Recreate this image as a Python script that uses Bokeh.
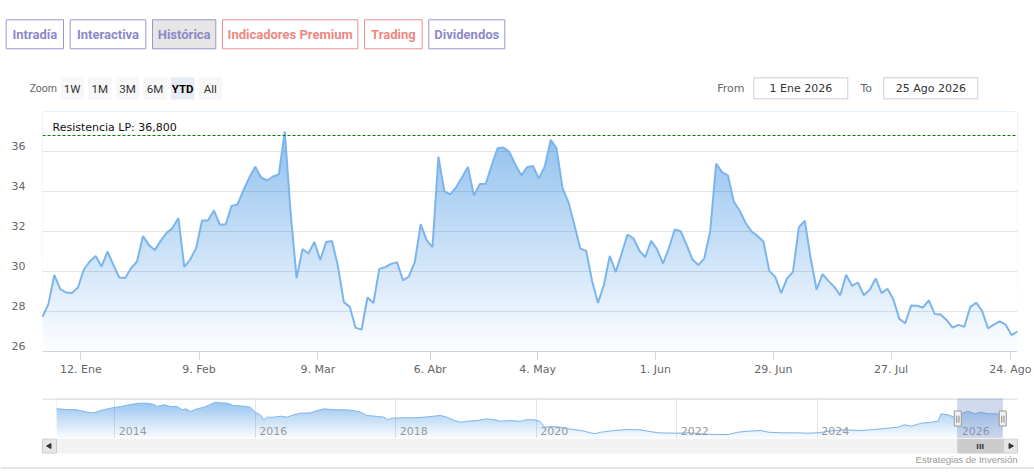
import numpy as np
from bokeh.plotting import figure
from bokeh.layouts import column
from bokeh.models import Range1d, FixedTicker, Span, Label, Grid
from bokeh.core.properties import value
from bokeh.embed import file_html
from bokeh.resources import INLINE

# ---------------- data ----------------
price = [27.73, 28.37, 29.83, 29.12, 28.95, 28.93, 29.20, 30.10, 30.50, 30.77,
         30.25, 31.00, 30.33, 29.70, 29.67, 30.17, 30.50, 31.77, 31.33, 31.07,
         31.53, 31.93, 32.17, 32.67, 30.23, 30.60, 31.17, 32.55, 32.55, 33.05,
         32.35, 32.35, 33.28, 33.35, 34.05, 34.70, 35.24, 34.70, 34.55, 34.75,
         34.85, 37.00, 32.90, 29.67, 31.12, 30.90, 31.48, 30.58, 31.47, 31.52,
         30.26, 28.47, 28.23, 27.18, 27.10, 28.70, 28.42, 30.13, 30.22, 30.38,
         30.46, 29.56, 29.75, 30.47, 32.37, 31.57, 31.22, 35.74, 34.02, 33.86,
         34.21, 34.71, 35.23, 33.80, 34.37, 34.39, 35.28, 36.16, 36.20, 35.98,
         35.36, 34.81, 35.21, 35.28, 34.65, 35.25, 36.58, 36.16, 34.17, 33.47,
         32.34, 31.16, 31.03, 29.54, 28.43, 29.31, 30.78, 29.97, 30.89, 31.85,
         31.66, 31.05, 30.72, 31.53, 31.12, 30.40, 31.16, 32.10, 32.02, 31.33,
         30.60, 30.32, 30.66, 32.03, 35.39, 34.97, 34.80, 33.48, 33.04, 32.42,
         32.00, 31.78, 31.50, 30.03, 29.73, 28.92, 29.65, 29.98, 32.22, 32.54,
         30.66, 29.09, 29.87, 29.53, 29.23, 28.81, 29.84, 29.28, 29.45, 28.81,
         29.09, 29.65, 28.92, 29.14, 28.60, 27.63, 27.41, 28.30, 28.29, 28.20,
         28.56, 27.87, 27.85, 27.58, 27.19, 27.33, 27.24, 28.22, 28.44, 28.03,
         27.16, 27.34, 27.51, 27.34, 26.82, 27.00]

# x tick positions (trading-day index) and labels
xtick_pos = [6.5, 26.5, 46.6, 65.6, 83.8, 103.7, 123.7, 143.6, 163.8]
xtick_labels = ["12. Ene", "9. Feb", "9. Mar", "6. Abr", "4. May", "1. Jun",
                "29. Jun", "27. Jul", "24. Ago"]
ytick_vals = [26, 28, 30, 32, 34, 36]
ygrid_vals = [28, 30, 32, 34, 36, 38]
resistance = 36.8

# navigator (long history)
nav_year = [2013.17, 2013.32, 2013.46, 2013.61, 2013.70, 2013.80, 2013.94, 2014.08,
            2014.22, 2014.34, 2014.46, 2014.56, 2014.60, 2014.70, 2014.79, 2014.89,
            2014.96, 2015.01, 2015.08, 2015.17, 2015.27, 2015.36, 2015.43, 2015.50,
            2015.60, 2015.69, 2015.84, 2015.93, 2016.00, 2016.07, 2016.12, 2016.17,
            2016.26, 2016.36, 2016.45, 2016.55, 2016.64, 2016.79, 2016.88, 2016.98,
            2017.12, 2017.26, 2017.40, 2017.50, 2017.59, 2017.74, 2017.83, 2017.88,
            2017.95, 2018.11, 2018.26, 2018.40, 2018.54, 2018.64, 2018.73, 2018.83,
            2018.92, 2019.02, 2019.16, 2019.30, 2019.40, 2019.49, 2019.63, 2019.77,
            2019.85, 2019.97, 2020.05, 2020.12, 2020.21, 2020.35, 2020.45, 2020.64,
            2020.83, 2020.92, 2021.11, 2021.30, 2021.49, 2021.59, 2021.73, 2021.97,
            2022.16, 2022.35, 2022.54, 2022.73, 2022.87, 2023.01, 2023.20, 2023.30,
            2023.49, 2023.68, 2023.86, 2024.01, 2024.24, 2024.39, 2024.62, 2024.81,
            2025.00, 2025.15, 2025.24, 2025.34, 2025.48, 2025.62, 2025.72, 2025.76,
            2025.86, 2025.95, 2026.05, 2026.14, 2026.24, 2026.33, 2026.43, 2026.55,
            2026.64]
nav_value = [37.0, 36.3, 36.0, 33.6, 33.0, 35.3, 37.6, 39.3,
             41.3, 42.6, 42.6, 41.3, 39.3, 41.0, 39.3, 39.3,
             36.0, 37.0, 34.3, 37.0, 38.6, 41.3, 43.6, 43.0,
             42.6, 40.3, 39.6, 38.6, 33.6, 31.0, 26.0, 28.6,
             28.6, 29.6, 28.6, 31.0, 32.6, 33.0, 35.3, 37.0,
             36.0, 36.0, 35.3, 33.6, 30.3, 29.3, 28.6, 26.0,
             27.6, 28.0, 28.0, 28.6, 29.6, 30.3, 28.6, 25.3,
             23.6, 24.6, 25.3, 27.0, 26.0, 24.6, 25.3, 24.5,
             26.0, 26.0, 24.6, 18.6, 19.3, 18.6, 17.0, 15.3,
             12.0, 13.6, 15.3, 16.3, 16.0, 14.6, 13.0, 12.6,
             13.0, 12.0, 11.3, 11.3, 13.6, 14.6, 15.3, 13.6,
             13.0, 13.0, 12.6, 13.0, 15.3, 16.0, 15.3, 16.3,
             17.6, 18.6, 21.0, 19.6, 22.6, 23.6, 24.6, 32.0,
             31.0, 28.6, 32.0, 34.6, 32.0, 33.6, 32.0, 32.0,
             30.3]
nav_tick_years = [2014, 2016, 2018, 2020, 2022, 2024, 2026]
nav_tick_labels = ["2014", "2016", "2018", "2020", "2022", "2024", "2026"]
sel_start = 2026.0  # "1 Ene 2026"

tab_labels = ["Intradía", "Interactiva", "Histórica", "Indicadores Premium", "Trading", "Dividendos"]
range_labels = ["1W", "1M", "3M", "6M", "YTD", "All"]
date_from = "1 Ene 2026"
date_to = "25 Ago 2026"
credits = "Estrategias de Inversión"

# ---------------- layout / style ----------------
W = 1034
FL, FR = 42, 17          # left / right border around the plotting frames
FW = W - FL - FR         # 975
FONT = value("DejaVu Sans")
BLUE = "#7cb5ec"
tab_l = [5.7, 69.7, 152.0, 222.0, 364.0, 428.3]
tab_r = [63.0, 145.3, 215.3, 357.3, 421.7, 504.3]
PURPLE_T, PURPLE_B = "#8d88c8", "#9a95d2"
RED_T, RED_B = "#ee8783", "#ec8f8b"
tab_text = [PURPLE_T, PURPLE_T, PURPLE_T, RED_T, RED_T, PURPLE_T]
tab_line = [PURPLE_B, PURPLE_B, PURPLE_B, RED_B, RED_B, PURPLE_B]
tab_fill = ["white", "white", "#e6e6e6", "white", "white", "white"]
rng_l = [60.0, 87.7, 115.3, 142.7, 170.3, 198.0]
rng_r = [83.3, 111.0, 138.7, 166.3, 194.0, 221.7]
rng_fill = ["#f7f7f7", "#f7f7f7", "#f7f7f7", "#f7f7f7", "#e6ebf5", "#f7f7f7"]


def grad_img(rows, lo, hi, a_lo, a_hi, vtop):
    ys = lo + (np.arange(rows) + 0.5) * (hi - lo) / rows
    a = np.clip(a_lo + (a_hi - a_lo) * (ys - lo) / (vtop - lo), a_lo, a_hi)
    img = np.empty((rows, 1), dtype=np.uint32)
    v = img.view(dtype=np.uint8).reshape((rows, 1, 4))
    v[..., 0] = 124
    v[..., 1] = 181
    v[..., 2] = 236
    v[..., 3] = (a * 255).astype(np.uint8)[:, None]
    return img


common = dict(toolbar_location=None, output_backend="svg", outline_line_color=None,
              background_fill_color="white", border_fill_color="white")

# ---------------- header (own root, full-width frame) ----------------
head = figure(width=W, height=105, x_range=Range1d(0, W), y_range=Range1d(105, 0),
              x_axis_type=None, y_axis_type=None, min_border=0, **common)
head.quad(left=tab_l, right=tab_r, top=19.3, bottom=48.3, fill_color=tab_fill,
          line_color=tab_line, line_width=1)
head.text(x=[(a + b) / 2 for a, b in zip(tab_l, tab_r)], y=34, text=tab_labels,
          text_align="center", text_baseline="middle", text_font=value("Roboto"),
          text_font_size="13px", text_font_style="bold", text_color=tab_text)
head.text(x=[56.5], y=88, text=["Zoom"], text_align="right", text_baseline="middle",
          text_font=value("Roboto"), text_font_size="10.5px", text_color="#666666")
head.quad(left=rng_l, right=rng_r, top=76.7, bottom=99, fill_color=rng_fill, line_color=None)
rx = [(a + b) / 2 for a, b in zip(rng_l, rng_r)]
normal = [i for i, t in enumerate(range_labels) if t != "YTD"]
head.text(x=[rx[i] for i in normal], y=88.5, text=[range_labels[i] for i in normal],
          text_align="center", text_baseline="middle", text_font=value("Roboto"),
          text_font_size="11.5px", text_color="#333333")
head.text(x=[rx[4]], y=88.5, text=[range_labels[4]], text_align="center",
          text_baseline="middle", text_font=value("Roboto"), text_font_size="11.5px",
          text_font_style="bold", text_color="#000000")
head.text(x=[716.7, 860.0], y=88, text=["From", "To"], text_align="left",
          text_baseline="middle", text_font=FONT, text_font_size="11px", text_color="#666666")
head.quad(left=[753.3, 883.3], right=[847.3, 977.3], top=77.3, bottom=98.3,
          fill_color="white", line_color="#cccccc")
head.text(x=[800.3, 930.3], y=88, text=[date_from, date_to], text_align="center",
          text_baseline="middle", text_font=FONT, text_font_size="11px", text_color="#333333")

# ---------------- main chart ----------------
n = len(price)
idx = np.arange(n)
ylo, yhi = 26, 38
main = figure(frame_width=FW, frame_height=240, x_range=Range1d(0, n - 1),
              y_range=Range1d(ylo, yhi), min_border_left=FL, min_border_right=FR,
              min_border_top=6, min_border_bottom=47, **common)
main.image_rgba(image=[grad_img(240, ylo, yhi, 0.02, 0.85, 37)], x=0, y=ylo,
                dw=n - 1, dh=yhi - ylo)
main.varea(x=idx, y1=price, y2=yhi, fill_color="white")
main.xgrid.visible = False
main.ygrid.ticker = FixedTicker(ticks=ygrid_vals)
main.ygrid.grid_line_color = "black"
main.ygrid.grid_line_alpha = 0.1
main.ygrid.level = "annotation"
main.line(idx, price, line_color=BLUE, line_width=2, level="overlay")
main.add_layout(Span(location=resistance, dimension="width", line_color="#008000",
                     line_dash="3 2", line_width=1, level="overlay"))
main.add_layout(Label(x=0, y=resistance, x_offset=10, y_offset=2,
                      text="Resistencia LP: " + f"{resistance:.3f}".replace(".", ","),
                      text_font="DejaVu Sans", text_font_size="11px", text_color="#111111",
                      text_baseline="bottom", level="overlay"))
yoff = 0.3
yt = [v + yoff for v in ytick_vals]
main.yaxis.ticker = FixedTicker(ticks=yt)
main.yaxis.major_label_overrides = {t: str(v) for t, v in zip(yt, ytick_vals)}
main.yaxis.axis_line_color = None
main.yaxis.major_tick_line_color = None
main.yaxis.minor_tick_line_color = None
main.yaxis.major_tick_out = 0
main.yaxis.major_label_standoff = 17
main.xaxis.ticker = FixedTicker(ticks=xtick_pos)
main.xaxis.major_label_overrides = dict(zip(xtick_pos, xtick_labels))
main.xaxis.axis_line_color = "#ccd6eb"
main.xaxis.major_tick_line_color = "#ccd6eb"
main.xaxis.minor_tick_line_color = None
main.xaxis.major_tick_out = 8
main.xaxis.major_tick_in = 0
main.xaxis.major_label_standoff = 3
for ax in (main.xaxis, main.yaxis):
    ax.major_label_text_font = "DejaVu Sans"
    ax.major_label_text_font_size = "11px"
    ax.major_label_text_color = "#666666"

# ---------------- navigator ----------------
nav_xr = Range1d(2012.97, 2026.85)
nlo, nhi = 7.3, 47.3
nav = figure(frame_width=FW, frame_height=40, x_range=nav_xr, y_range=Range1d(nlo, nhi),
             x_axis_type=None, y_axis_type=None, min_border_left=FL, min_border_right=FR,
             min_border_top=0, min_border_bottom=0, **common)
nav.image_rgba(image=[grad_img(40, nlo, nhi, 0.03, 0.8, 44)], x=nav_year[0], y=nlo,
               dw=nav_year[-1] - nav_year[0], dh=nhi - nlo)
nav.varea(x=nav_year, y1=nav_value, y2=nhi, fill_color="white")
nav.add_layout(Grid(dimension=0, ticker=FixedTicker(ticks=nav_tick_years),
                    grid_line_color="black", grid_line_alpha=0.1, level="annotation"))
nav.add_layout(Span(location=nhi - 0.5, dimension="width", line_color="#cccccc",
                    line_width=1, level="annotation"))
nav.line(nav_year, nav_value, line_color=BLUE, line_width=1, level="overlay")
nav.text(x=nav_tick_years, y=nlo + 8, text=nav_tick_labels, x_offset=4,
         text_align="left", text_baseline="middle", text_font=FONT,
         text_font_size="11px", text_color="#999999", level="overlay")
nav.quad(left=sel_start, right=nav_year[-1], bottom=nlo, top=nhi,
         fill_color="#6685c2", fill_alpha=0.3, line_color=None, level="overlay")
hmid = (nlo + nhi) / 2
nav.rect(x=[sel_start, nav_year[-1]], y=hmid, width=7, height=15, width_units="screen",
         height_units="screen", fill_color="#f2f2f2", line_color="#999999", level="overlay")
nav.text(x=[sel_start, nav_year[-1]], y=hmid, text=["||", "||"], text_align="center",
         text_baseline="middle", text_font=FONT, text_font_size="7px",
         text_color="#333333", level="overlay")

# ---------------- scrollbar + credits (own root, full-width frame) ----------------
px = (nav_xr.end - nav_xr.start) / FW
sc_xr = Range1d(nav_xr.start - FL * px, nav_xr.end + FR * px)
sc = figure(width=W, height=34, x_range=sc_xr, y_range=Range1d(472, 438),
            x_axis_type=None, y_axis_type=None, min_border=0, **common)
sc.quad(left=nav_xr.start, right=nav_xr.end, top=438, bottom=453,
        fill_color="#f2f2f2", line_color=None)
sc.quad(left=sel_start, right=nav_year[-1], top=438.5, bottom=452.5,
        fill_color="#cccccc", line_color="#cccccc")
sc.quad(left=[nav_xr.start, nav_xr.end - 14 * px], right=[nav_xr.start + 14 * px, nav_xr.end],
        top=438.5, bottom=452.5, fill_color="#e6e6e6", line_color="#cccccc")
sc.scatter(x=[nav_xr.start + 7 * px, nav_xr.end - 7 * px], y=445.5, marker="triangle",
           angle=[np.pi / 2, -np.pi / 2], size=5, fill_color="#333333", line_color="#333333")
sc.text(x=[(sel_start + nav_year[-1]) / 2], y=446, text=["III"], text_align="center",
        text_baseline="middle", text_font=FONT, text_font_size="7px",
        text_font_style="bold", text_color="#333333")
sc.text(x=[nav_xr.end], y=459, text=[credits], text_align="right", text_baseline="middle",
        text_font=value("Liberation Sans"), text_font_size="9.5px", text_color="#999999")
sc.segment(x0=sc_xr.start, x1=sc_xr.end, y0=467.5, y1=467.5, line_color="#cccccc",
           line_width=1)

open("out.html", "w").write(file_html([head, column(main, nav, spacing=0), sc], INLINE))
